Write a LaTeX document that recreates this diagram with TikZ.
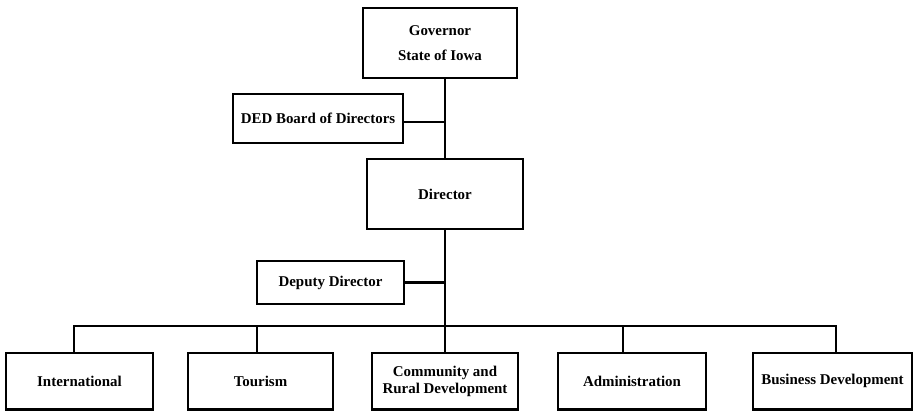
\documentclass[tikz,border=0pt]{standalone}
\usepackage{fontspec}
\setmainfont{Liberation Serif}
\usepackage{tikz}
\usetikzlibrary{positioning}

\tikzset{
  orgbox/.style={draw, line width=1.5pt, inner sep=1pt, outer sep=0pt, align=center,
    font=\fontsize{8.5}{10}\selectfont\bfseries},
  orgline/.style={line width=1.5pt}
}

\begin{document}
\begin{tikzpicture}
\useasboundingbox (0,0) rectangle (18.32,-8.22);

% Top of the chart
\node[orgbox, minimum width=3.08cm, minimum height=1.4cm] (gov) at (8.80,-0.86) {Governor\\[3.8pt]State of Iowa};
\node[orgbox, minimum width=3.12cm, minimum height=1.4cm, below=1.62cm of gov, xshift=0.1cm] (dir) {Director};

% Side boxes
\node[orgbox, minimum width=3.40cm, minimum height=0.98cm] (ded) at (6.36,-2.37) {DED Board of Directors};
\node[orgbox, minimum width=2.94cm, minimum height=0.86cm] (dep) at (6.61,-5.65) {Deputy Director};

% Divisions
\node[orgbox, minimum width=2.92cm, minimum height=1.13cm, below=2.48cm of dir] (comm) {Community and\\Rural Development};
\node[orgbox, minimum width=2.90cm, minimum height=1.13cm, left=0.78cm of comm] (tour) {Tourism};
\node[orgbox, minimum width=2.94cm, minimum height=1.13cm, left=0.70cm of tour] (intl) {International};
\node[orgbox, minimum width=2.96cm, minimum height=1.13cm, right=0.80cm of comm] (adm) {Administration};
\node[orgbox, minimum width=3.18cm, minimum height=1.13cm, right=0.94cm of adm] (biz) {Business Development};

% Trunk and side links
\draw[orgline] (dir.north) -- (dir.north |- gov.south);
\draw[orgline] ([yshift=-0.07cm]ded.east) -- ([yshift=-0.07cm]ded.east -| dir.north);
\draw[orgline] (dep.east) -- (dep.east -| dir.north);
\draw[orgline] (dir.south) -- (comm.north);

% Bus to the divisions
\coordinate (bus) at (8.90,-6.52);
\draw[orgline] ([xshift=-0.11cm]intl.north) |- (bus) -| ([xshift=0.07cm]biz.north);
\draw[orgline] ([xshift=-0.07cm]tour.north) -- ([xshift=-0.07cm]tour.north |- bus);
\draw[orgline] ([xshift=-0.18cm]adm.north) -- ([xshift=-0.18cm]adm.north |- bus);
\end{tikzpicture}
\end{document}
